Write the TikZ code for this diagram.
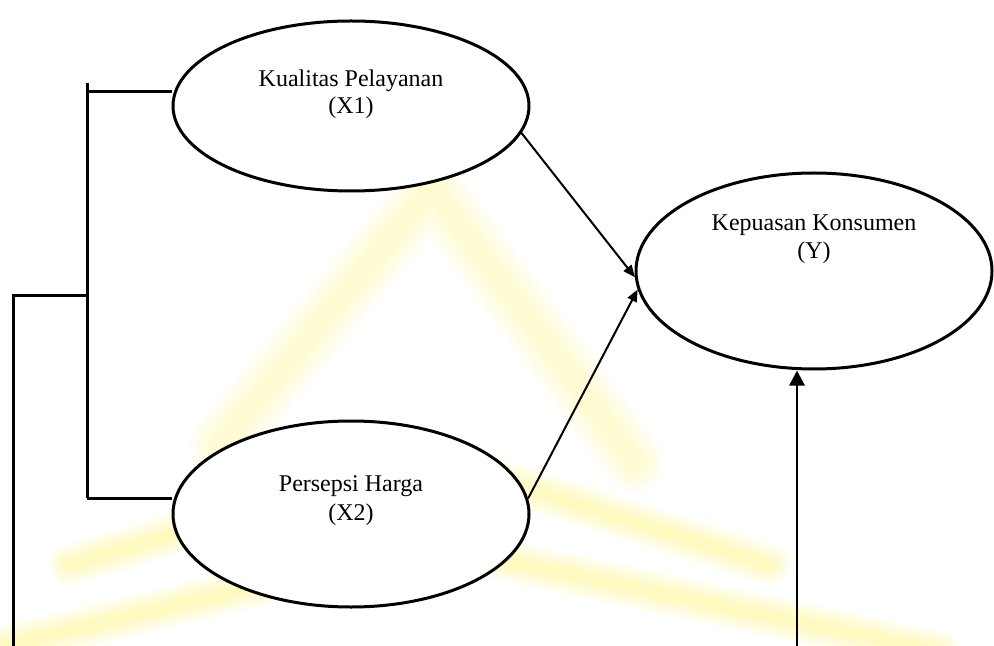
\documentclass[tikz,border=0pt]{standalone}
\usepackage{fontspec}
\setmainfont{Liberation Serif}
\usetikzlibrary{shapes.geometric,arrows.meta}
\definecolor{wm}{RGB}{255,240,60}
\begin{document}
\begin{tikzpicture}[x=0.5pt,y=-0.5pt,
  lat/.style={draw,fill=white,ellipse,line width=1.5pt,inner sep=0pt,minimum width=178pt},
  lbl/.style={font=\fontsize{12}{14}\selectfont,anchor=base,inner sep=0pt},
  thinarrow/.style={line width=1pt,-{Triangle[length=6pt,width=5pt]}},
  thickarrow/.style={line width=1.4pt,-{Triangle[length=7.5pt,width=7.5pt]}},
  brk/.style={line width=1.5pt},
  wmark/.style={draw=wm,opacity=0.06,line join=round,line cap=round}]
\useasboundingbox (0,0) rectangle (994,646);
% faint watermark (soft edges by stacked strokes)
\foreach \w in {30,24,18,12}{
  \draw[wmark,line width=\w pt] (220,445) -- (432,188) -- (635,462);
}
\foreach \w in {20,15,10,6}{
  \draw[wmark,opacity=0.09,line width=\w pt] (70,565) -- (430,458) -- (770,565);
  \draw[wmark,opacity=0.09,line width=\w pt] (-20,652) -- (430,545) -- (940,652);
}
% latent variables
\node[lat,minimum height=85pt] (x1) at (351,106) {};
\node[lat,minimum height=98pt] (y) at (814,271) {};
\node[lat,minimum height=93pt] (x2) at (351,514) {};
\node[lbl] (x1a) at (351,87) {Kualitas Pelayanan};
\node[lbl] (x1b) at (351,114) {(X1)};
\node[lbl] (ya) at (814,231) {Kepuasan Konsumen};
\node[lbl] (yb) at (814,259) {(Y)};
\node[lbl] (x2a) at (351,491) {Persepsi Harga};
\node[lbl] (x2b) at (351,520) {(X2)};
% arrows
\draw[thinarrow] (x1.-9) -- (y.182);
\draw[thinarrow] (x2.5) -- (y.186);
\coordinate (ybot) at (797,646);
\draw[thickarrow] (ybot) -- (ybot |- y.south);
% bracket
\coordinate (btop) at (87,83);
\coordinate (bs1) at (87,92);
\coordinate (bs2) at (87,498);
\coordinate (bmid) at (87,296);
\coordinate (lcorner) at (13,296);
\coordinate (lbot) at (13,646);
\draw[brk] (btop) -- (bs2);
\draw[brk] (bs1) -- (bs1 -| x1.west);
\draw[brk] (bs2) -- (bs2 -| x2.west);
\draw[brk,line join=miter] (bmid) -- (lcorner) -- (lbot);
\end{tikzpicture}
\end{document}
